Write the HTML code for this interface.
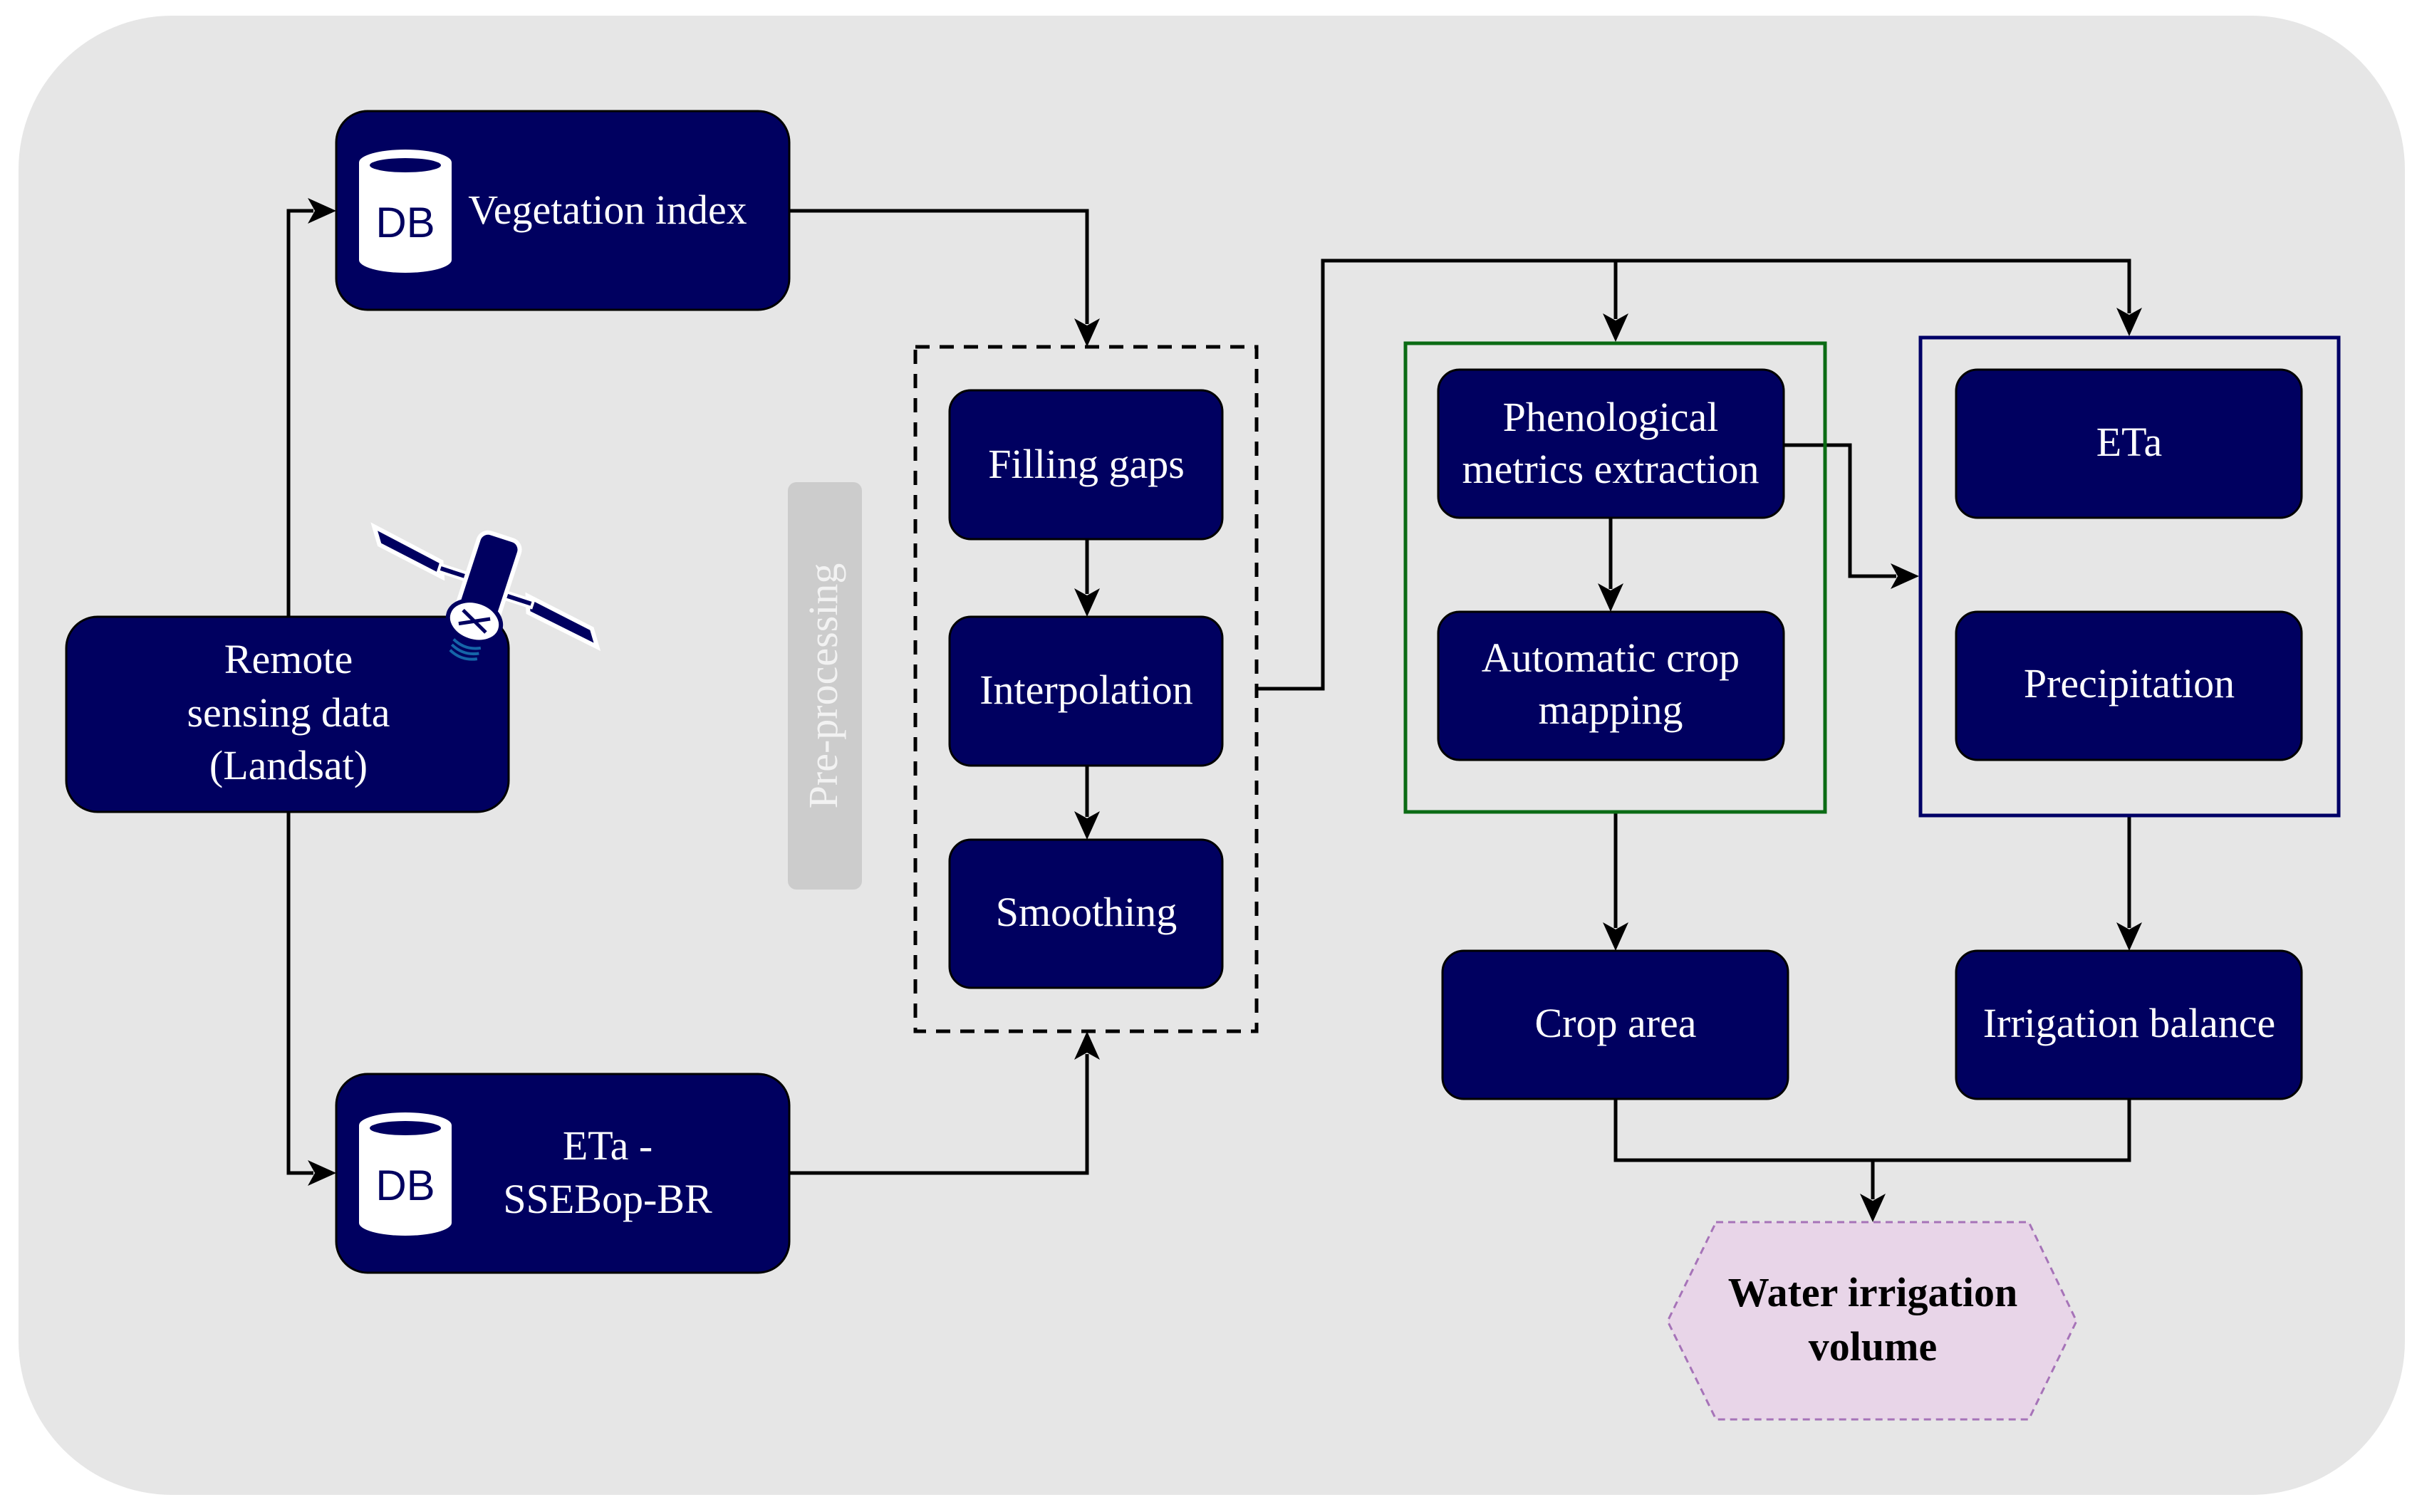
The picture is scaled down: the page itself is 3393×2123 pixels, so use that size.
<!DOCTYPE html>
<html><head><meta charset="utf-8"><style>
html,body{margin:0;padding:0;background:#fff;}
svg{display:block;}
text{font-family:"Liberation Serif",serif;}
text.db{font-family:"Liberation Sans",sans-serif;}
</style></head><body>
<svg width="3393" height="2123" viewBox="0 0 3393 2123" xmlns="http://www.w3.org/2000/svg">
<rect x="26" y="22" width="3350" height="2077" rx="216" fill="#e6e6e6"/>

<g fill="none" stroke="#000" stroke-width="5">
<polyline points="405,866 405,296 440,296"/>
<polyline points="405,1140 405,1647 440,1647"/>
<polyline points="1108,296 1526,296 1526,455"/>
<polyline points="1108,1647 1526,1647 1526,1480"/>
<line x1="1526" y1="757" x2="1526" y2="834"/>
<line x1="1526" y1="1075" x2="1526" y2="1147"/>
<polyline points="1764,967 1857,967 1857,366 2989,366 2989,440"/>
<line x1="2268" y1="366" x2="2268" y2="448"/>
<polyline points="2504,625 2597,625 2597,809 2662,809"/>
<line x1="2261" y1="727" x2="2261" y2="827"/>
<line x1="2268" y1="1140" x2="2268" y2="1303"/>
<line x1="2989" y1="1145" x2="2989" y2="1303"/>
<polyline points="2268,1543 2268,1629 2989,1629 2989,1543"/>
<line x1="2629" y1="1629" x2="2629" y2="1684"/>
</g>
<g fill="#000">
<path d="M472,296 L432,278 L442,296 L432,314Z"/>
<path d="M472,1647 L432,1629 L442,1647 L432,1665Z"/>
<path d="M1526,487 L1508,447 L1526,457 L1544,447Z"/>
<path d="M1526,1448 L1508,1488 L1526,1478 L1544,1488Z"/>
<path d="M1526,866 L1508,826 L1526,836 L1544,826Z"/>
<path d="M1526,1179 L1508,1139 L1526,1149 L1544,1139Z"/>
<path d="M2989,472 L2971,432 L2989,442 L3007,432Z"/>
<path d="M2268,480 L2250,440 L2268,450 L2286,440Z"/>
<path d="M2694,809 L2654,791 L2664,809 L2654,827Z"/>
<path d="M2261,859 L2243,819 L2261,829 L2279,819Z"/>
<path d="M2268,1335 L2250,1295 L2268,1305 L2286,1295Z"/>
<path d="M2989,1335 L2971,1295 L2989,1305 L3007,1295Z"/>
<path d="M2629,1716 L2611,1676 L2629,1686 L2647,1676Z"/>
</g>

<rect x="1285" y="487" width="479" height="961" fill="none" stroke="#000" stroke-width="5" stroke-dasharray="20,14"/>
<rect x="1106" y="677" width="104" height="572" rx="12" fill="#cccccc"/>
<text x="0" y="0" transform="translate(1175,963) rotate(-90)" font-size="58" fill="#f2f2f2" text-anchor="middle">Pre-processing</text>

<rect x="1973" y="482" width="589" height="658" fill="none" stroke="#0b6b14" stroke-width="5"/>
<rect x="2696" y="474" width="587" height="671" fill="none" stroke="#000066" stroke-width="5"/>

<g fill="#000060" stroke="#000" stroke-width="3">
<rect x="472" y="156" width="636" height="279" rx="44"/>
<rect x="93" y="866" width="621" height="274" rx="44"/>
<rect x="472" y="1508" width="636" height="279" rx="44"/>
<rect x="1333" y="548" width="383" height="209" rx="30"/>
<rect x="1333" y="866" width="383" height="209" rx="30"/>
<rect x="1333" y="1179" width="383" height="208" rx="30"/>
<rect x="2019" y="519" width="485" height="208" rx="30"/>
<rect x="2019" y="859" width="485" height="208" rx="30"/>
<rect x="2746" y="519" width="485" height="208" rx="30"/>
<rect x="2746" y="859" width="485" height="208" rx="30"/>
<rect x="2025" y="1335" width="485" height="208" rx="30"/>
<rect x="2746" y="1335" width="485" height="208" rx="30"/>
</g>

<g>
<path d="M504,228 a65,18 0 0 1 130,0 v137 a65,18 0 0 1 -130,0Z" fill="#fff"/>
<ellipse cx="569" cy="232" rx="50" ry="10" fill="#000060"/>
<text class="db" x="569" y="333" font-size="60" fill="#000060" text-anchor="middle">DB</text>
<path d="M504,1580 a65,18 0 0 1 130,0 v137 a65,18 0 0 1 -130,0Z" fill="#fff"/>
<ellipse cx="569" cy="1584" rx="50" ry="10" fill="#000060"/>
<text class="db" x="569" y="1685" font-size="60" fill="#000060" text-anchor="middle">DB</text>
</g>

<g fill="#fff" font-size="58" text-anchor="middle">
<text x="853" y="314">Vegetation index</text>
<text x="405" y="945">Remote</text>
<text x="405" y="1020">sensing data</text>
<text x="405" y="1094">(Landsat)</text>
<text x="853" y="1628">ETa -</text>
<text x="853" y="1703">SSEBop-BR</text>
<text x="1525" y="671">Filling gaps</text>
<text x="1525" y="988">Interpolation</text>
<text x="1525" y="1300">Smoothing</text>
<text x="2261" y="605">Phenological</text>
<text x="2261" y="678">metrics extraction</text>
<text x="2261" y="943">Automatic crop</text>
<text x="2261" y="1016">mapping</text>
<text x="2989" y="640">ETa</text>
<text x="2989" y="979">Precipitation</text>
<text x="2268" y="1456">Crop area</text>
<text x="2989" y="1456">Irrigation balance</text>
</g>

<polygon points="2409,1716 2848,1716 2915,1855 2848,1993 2409,1993 2341,1855" fill="#e8d5e8" stroke="#a673b8" stroke-width="3" stroke-dasharray="10,7"/>
<g font-size="58" font-weight="bold" fill="#000" text-anchor="middle">
<text x="2629" y="1834">Water irrigation</text>
<text x="2629" y="1910">volume</text>
</g>

<!-- satellite -->
<g transform="translate(683,820) rotate(18)">
<polygon points="-175,-28 -70,-10 -62,10 -160,-6" fill="#000060" stroke="#fff" stroke-width="6"/>
<polygon points="60,-2 160,14 175,36 68,20" fill="#000060" stroke="#fff" stroke-width="6"/>
<rect x="-70" y="-6" width="45" height="10" fill="#000060" stroke="#fff" stroke-width="4"/>
<rect x="25" y="2" width="45" height="10" fill="#000060" stroke="#fff" stroke-width="4"/>
<rect x="-30" y="-70" width="60" height="120" rx="14" fill="#000060" stroke="#fff" stroke-width="6"/>
<ellipse cx="0" cy="55" rx="38" ry="28" fill="#fff" stroke="#000060" stroke-width="6"/>
<path d="M-20,45 L20,65 M20,45 L-20,65" stroke="#000060" stroke-width="5"/>
<path d="M-20,88 q20,10 40,0 M-20,96 q20,10 40,0 M-20,104 q20,10 40,0" stroke="#1565a8" stroke-width="4" fill="none"/>
</g>
</svg>
</body></html>
